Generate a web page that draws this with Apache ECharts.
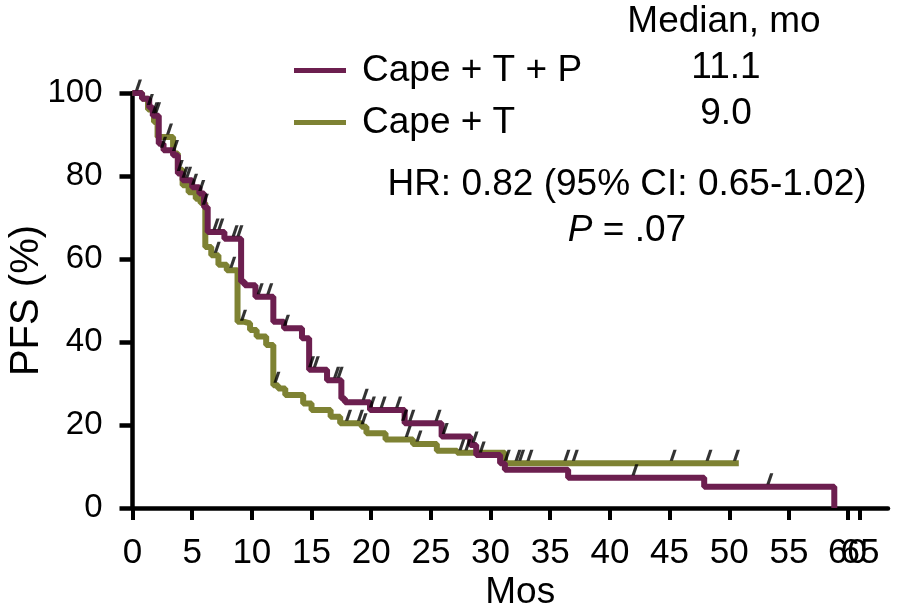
<!DOCTYPE html>
<html>
<head>
<meta charset="utf-8">
<script src="https://cdn.jsdelivr.net/npm/echarts@6/dist/echarts.min.js"></script>
<style>
html,body{margin:0;padding:0;background:#fff;}
#chart{width:906px;height:613px;}
</style>
</head>
<body>
<div id="chart"></div>
<script>
// ---- data ----
const seriesNames = ['Cape + T + P', 'Cape + T'];
const medianValues = ['11.1', '9.0'];
// Cape + T + P : step start times (months) and PFS (%)
const capeTPTimes = [0, 0.8, 1.4, 1.7, 2.2, 2.6, 3.4, 3.8, 4.2, 5.0, 5.6, 6.0, 6.3, 7.7, 9.1, 9.4, 10.3, 11.8, 12.7, 14.2, 14.8, 16.3, 17.5, 17.8, 19.9, 22.8, 25.9, 28.3, 28.8, 30.8, 31.2, 36.5, 47.9, 58.8];
const capeTPSurv  = [100, 98.6, 96.5, 94.5, 87.8, 86.2, 85.0, 80.6, 79.0, 77.3, 75.8, 72.5, 66.5, 64.9, 54.5, 53.7, 50.9, 44.9, 43.3, 40.9, 33.3, 30.8, 26.4, 25.5, 23.6, 20.4, 17.2, 15.2, 12.8, 10.8, 9.2, 7.3, 5.1, 0];
// Cape + T
const capeTTimes = [0, 0.8, 1.3, 1.8, 2.1, 3.4, 3.8, 4.2, 4.7, 5.3, 5.7, 6.1, 6.6, 7.2, 7.9, 8.8, 9.3, 9.85, 10.4, 11.2, 11.8, 12.2, 12.8, 14.3, 15.0, 16.6, 17.4, 19.2, 19.6, 21.2, 23.5, 25.5, 27.2, 31.2, 50.8];
const capeTSurv  = [100, 98.6, 96.0, 93.0, 89.4, 85.4, 81.5, 77.8, 76.1, 74.5, 73.5, 62.9, 60.9, 58.6, 57.3, 44.9, 44.5, 42.9, 41.3, 39.3, 29.6, 28.8, 27.2, 25.2, 23.6, 22.0, 20.4, 19.6, 18.0, 16.5, 15.4, 13.8, 13.3, 10.8, 10.8];
// censoring times (months)
const capeTPCensor = [0.5, 1.5, 1.9, 2.1, 2.6, 4.0, 4.4, 4.7, 5.2, 5.8, 6.1, 7.0, 7.4, 8.6, 9.0, 10.7, 11.5, 12.9, 15.0, 15.4, 17.1, 17.4, 19.5, 20.1, 21.0, 22.3, 22.8, 23.4, 25.6, 26.2, 28.7, 29.3, 42.1, 53.4];
const capeTCensor  = [3.1, 3.6, 7.1, 8.4, 9.3, 12.1, 18.1, 19.1, 19.4, 23.1, 24.0, 27.6, 28.1, 31.4, 32.3, 32.6, 33.3, 36.4, 37.1, 45.3, 48.3, 50.6];
// axis ticks (broken axis: 60 and 65 squeezed at the right end)
const yTickValues = [0, 20, 40, 60, 80, 100];
const xTickValues = [0, 5, 10, 15, 20, 25, 30, 35, 40, 45, 50, 55, 59.9, 60.95];
const xTickLabels = ['0', '5', '10', '15', '20', '25', '30', '35', '40', '45', '50', '55', '60', '65'];
const xAxisMax = 63.3;

// ---- build ----
const colors = ['#6C1F4F', '#7E8233'];
function pairs(ts, ss) { return ts.map((t, i) => [t, ss[i]]); }
function levelAt(ts, ss, t) {
  let v = ss[0];
  for (let i = 0; i < ts.length; i++) { if (ts[i] <= t) v = ss[i]; }
  return v;
}
const curves = [[capeTPTimes, capeTPSurv], [capeTTimes, capeTSurv]];
const censors = [capeTPCensor, capeTCensor];
const tickSym = 'path://M4,0 L7.5,0 L3.5,11 L0,11 Z';
const FONT = 'Liberation Sans, Arial, sans-serif';

const series = [];
curves.forEach((c, k) => {
  series.push({
    name: seriesNames[k], type: 'line', step: 'end', data: pairs(c[0], c[1]),
    showSymbol: false, symbol: 'none', lineStyle: { width: 6, color: colors[k] },
    itemStyle: { color: colors[k] }, z: 3 - k, animation: false
  });
});
censors.forEach((cs, k) => {
  series.push({
    name: 'censor' + k, type: 'scatter', symbol: tickSym, symbolSize: [7, 11], symbolOffset: [0, -8],
    itemStyle: { color: '#000' }, z: 5, animation: false, silent: true,
    data: cs.map(t => [t, levelAt(curves[k][0], curves[k][1], t)])
  });
});

const chart = echarts.init(document.getElementById('chart'), null, { renderer: 'canvas' });
chart.setOption({
  animation: false,
  backgroundColor: '#fff',
  grid: { left: 132.5, top: 93, right: 18, bottom: 105, containLabel: false, outerBoundsMode: 'none' },
  legend: {
    data: seriesNames, orient: 'vertical', left: 289, top: 47, itemWidth: 52, itemHeight: 5,
    itemGap: 15, icon: 'rect', selectedMode: false,
    textStyle: { fontFamily: FONT, fontSize: 37, color: '#000', padding: [0, 0, 0, 11] }
  },
  xAxis: {
    type: 'value', min: 0, max: xAxisMax,
    name: 'Mos', nameLocation: 'middle', nameGap: 66, nameMoveOverlap: false,
    nameTextStyle: { fontFamily: FONT, fontSize: 37, color: '#000', padding: [0, 0, 0, 20] },
    splitLine: { show: false },
    axisLine: { show: true, onZero: false, lineStyle: { color: '#000', width: 4.5 } },
    axisTick: { show: true, length: 12, lineStyle: { color: '#000', width: 4 }, customValues: xTickValues },
    axisLabel: {
      show: true, margin: 28, fontFamily: FONT, fontSize: 35, color: '#000',
      customValues: xTickValues.concat([xAxisMax]),
      hideOverlap: false,
      formatter: function (v) { const i = xTickValues.indexOf(v); return i >= 0 ? xTickLabels[i] : ''; }
    }
  },
  yAxis: {
    type: 'value', min: 0, max: 100, interval: 20,
    name: 'PFS (%)', nameLocation: 'middle', nameGap: 86, nameRotate: 90, nameMoveOverlap: false,
    nameTextStyle: { fontFamily: FONT, fontSize: 40, color: '#000' },
    splitLine: { show: false },
    axisLine: { show: true, onZero: false, lineStyle: { color: '#000', width: 4.5 } },
    axisTick: { show: true, length: 13, lineStyle: { color: '#000', width: 4.5 } },
    axisLabel: { margin: 30, fontFamily: FONT, fontSize: 33, color: '#000' }
  },
  graphic: [
    { type: 'text', x: 724, y: 22, style: { text: 'Median, mo', font: '37px ' + FONT, fill: '#000', textAlign: 'center', textVerticalAlign: 'middle' } },
    { type: 'text', x: 726, y: 68, style: { text: medianValues[0], font: '37px ' + FONT, fill: '#000', textAlign: 'center', textVerticalAlign: 'middle' } },
    { type: 'text', x: 726, y: 114, style: { text: medianValues[1], font: '37px ' + FONT, fill: '#000', textAlign: 'center', textVerticalAlign: 'middle' } },
    { type: 'text', x: 627, y: 185, style: { text: 'HR: 0.82 (95% CI: 0.65-1.02)', font: '37px ' + FONT, fill: '#000', textAlign: 'center', textVerticalAlign: 'middle' } },
    { type: 'text', x: 627, y: 231, style: {
        text: '{i|P} = .07', font: '37px ' + FONT, fill: '#000', textAlign: 'center', textVerticalAlign: 'middle',
        rich: { i: { fontStyle: 'italic', fontFamily: FONT, fontSize: 37, fill: '#000' } } } }
  ],
  series: series
});
</script>
</body>
</html>
